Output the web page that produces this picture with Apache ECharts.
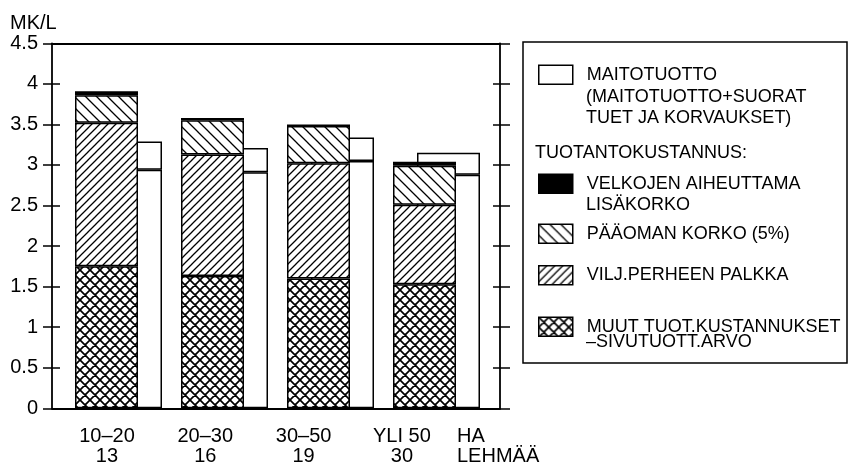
<!DOCTYPE html>
<html>
<head>
<meta charset="utf-8">
<script src="https://cdn.jsdelivr.net/npm/echarts@6/dist/echarts.min.js"></script>
<style>
html,body{margin:0;padding:0;background:#fff;}
#chart{width:849px;height:470px;}
</style>
</head>
<body>
<div id="chart"></div>
<script>
// ---- data (MK/L) ----
const categories = ['10–20', '20–30', '30–50', 'YLI 50'];
const cows = ['13', '16', '19', '30'];
const muutKustannukset = [1.75, 1.63, 1.60, 1.53];
const viljPerheenPalkka = [1.77, 1.50, 1.42, 0.98];
const paaomanKorko = [0.34, 0.42, 0.46, 0.48];
const velkojenLisakorko = [0.05, 0.03, 0.02, 0.05];
const maitotuotto = [2.94, 2.91, 3.05, 2.88];
const maitotuottoJaTuet = [3.29, 3.21, 3.34, 3.15];
const yTicks = [0, 0.5, 1, 1.5, 2, 2.5, 3, 3.5, 4, 4.5];

const FONT = "'Liberation Sans', Arial, sans-serif";
const tuetOsuus = maitotuottoJaTuet.map((v, i) => +(v - maitotuotto[i]).toFixed(3));
const empty = categories.map(() => null);

function makePattern(kind) {
  const s = kind === 'cross' ? 10 : (kind === 'fwd' ? 8 : 11);
  const c = document.createElement('canvas');
  c.width = s; c.height = s;
  const g = c.getContext('2d');
  g.fillStyle = '#fff'; g.fillRect(0, 0, s, s);
  g.strokeStyle = '#000';
  g.lineWidth = kind === 'cross' ? 1.7 : 1.3;
  g.beginPath();
  if (kind === 'fwd' || kind === 'cross') {
    g.moveTo(-1, s + 1); g.lineTo(s + 1, -1);
    g.moveTo(-2, 2); g.lineTo(2, -2);
    g.moveTo(s - 2, s + 2); g.lineTo(s + 2, s - 2);
  }
  if (kind === 'back' || kind === 'cross') {
    g.moveTo(-1, -1); g.lineTo(s + 1, s + 1);
    g.moveTo(s - 2, -2); g.lineTo(s + 2, 2);
    g.moveTo(-2, s - 2); g.lineTo(2, s + 2);
  }
  g.stroke();
  return { image: c, repeat: 'repeat' };
}
const patCross = makePattern('cross');
const patFwd = makePattern('fwd');
const patBack = makePattern('back');

const border = { borderColor: '#000', borderWidth: 1.5 };
const TOP = 43.3, BOTTOM = 470 - 408.3;
const frameLine = { show: true, onZero: false, lineStyle: { color: '#000', width: 1.8 } };

const chart = echarts.init(document.getElementById('chart'), null, { renderer: 'canvas' });

function legendAt(name, top) {
  return {
    data: [name], left: 538, top: top, orient: 'vertical', padding: 0,
    itemWidth: 34, itemHeight: 19, selectedMode: false, icon: 'rect',
    itemStyle: { borderColor: '#000', borderWidth: 1.5 },
    textStyle: { fontFamily: FONT, fontSize: 18, color: '#000', padding: [0, 0, 0, 9] }
  };
}
function gtext(x, y, text, size) {
  return { type: 'text', x: x, y: y, silent: true,
    style: { text: text, fill: '#000', font: (size || 18) + 'px ' + FONT, align: 'left', verticalAlign: 'middle' } };
}
function frameX(pos) {
  return { type: 'category', gridIndex: 0, data: categories, position: pos,
    axisLine: frameLine, axisTick: { show: false }, axisLabel: { show: false }, splitLine: { show: false } };
}

const option = {
  animation: false,
  backgroundColor: '#fff',
  grid: [
    { left: 52, right: 849 - 500, top: TOP, bottom: BOTTOM },
    { left: 65.5, width: 424, top: TOP, bottom: BOTTOM },
    { left: 57.8, width: 393.3, top: TOP, bottom: BOTTOM }
  ],
  xAxis: [
    { type: 'category', gridIndex: 1, data: categories, show: false },
    { type: 'category', gridIndex: 1, data: categories, show: false },
    frameX('bottom'),
    { type: 'category', gridIndex: 2, data: categories, position: 'bottom',
      axisLine: { show: false }, axisTick: { show: false },
      axisLabel: { margin: 18, fontFamily: FONT, fontSize: 20, color: '#000', lineHeight: 20,
        formatter: (v, i) => v + '\n' + cows[i] } },
    frameX('top')
  ],
  yAxis: [
    { type: 'value', gridIndex: 0, position: 'left', min: yTicks[0], max: yTicks[yTicks.length - 1], interval: 0.5,
      splitLine: { show: false }, axisLine: frameLine,
      axisTick: { show: true, length: 9, lineStyle: { color: '#000', width: 1.5 } },
      axisLabel: { margin: 14, fontFamily: FONT, fontSize: 20, color: '#000', formatter: v => String(v) } },
    { type: 'value', gridIndex: 0, position: 'left', min: 0, max: 4.5, interval: 0.5,
      splitLine: { show: false }, axisLine: { show: false }, axisLabel: { show: false },
      axisTick: { show: true, inside: true, length: 8, lineStyle: { color: '#000', width: 1.5 } } },
    { type: 'value', gridIndex: 0, position: 'right', min: 0, max: 4.5, interval: 0.5,
      splitLine: { show: false }, axisLine: frameLine, axisLabel: { show: false },
      axisTick: { show: true, length: 10, lineStyle: { color: '#000', width: 1.5 } } },
    { type: 'value', gridIndex: 0, position: 'right', min: 0, max: 4.5, interval: 0.5,
      splitLine: { show: false }, axisLine: { show: false }, axisLabel: { show: false },
      axisTick: { show: true, inside: true, length: 7, lineStyle: { color: '#000', width: 1.5 } } },
    { type: 'value', gridIndex: 1, min: 0, max: 4.5, show: false },
    { type: 'value', gridIndex: 2, min: 0, max: 4.5, show: false }
  ],
  legend: [
    legendAt('MAITOTUOTTO', 64.5),
    legendAt('VELKOJEN AIHEUTTAMA', 173.5),
    legendAt('PÄÄOMAN KORKO (5%)', 223.5),
    legendAt('VILJ.PERHEEN PALKKA', 265),
    legendAt('MUUT TUOT.KUSTANNUKSET', 316.5)
  ],
  graphic: [
    { type: 'rect', shape: { x: 523, y: 42, width: 324, height: 321 }, silent: true, z: -1,
      style: { fill: 'transparent', stroke: '#000', lineWidth: 1.5 } },
    gtext(586, 97, '(MAITOTUOTTO+SUORAT'),
    gtext(586, 118.5, 'TUET JA KORVAUKSET)'),
    gtext(535, 153, 'TUOTANTOKUSTANNUS:'),
    gtext(586, 205, 'LISÄKORKO'),
    gtext(586, 342.5, '–SIVUTUOTT.ARVO'),
    gtext(10, 23, 'MK/L', 20),
    gtext(457, 436, 'HA', 20),
    gtext(457, 456, 'LEHMÄÄ', 20)
  ],
  series: [
    { name: 'MUUT TUOT.KUSTANNUKSET', type: 'bar', xAxisIndex: 0, yAxisIndex: 4, stack: 'cost',
      barWidth: 63, barGap: '0%', z: 3, data: muutKustannukset, itemStyle: Object.assign({ color: patCross }, border) },
    { name: 'VILJ.PERHEEN PALKKA', type: 'bar', xAxisIndex: 0, yAxisIndex: 4, stack: 'cost',
      barWidth: 63, barGap: '0%', z: 3, data: viljPerheenPalkka, itemStyle: Object.assign({ color: patFwd }, border) },
    { name: 'PÄÄOMAN KORKO (5%)', type: 'bar', xAxisIndex: 0, yAxisIndex: 4, stack: 'cost',
      barWidth: 63, barGap: '0%', z: 3, data: paaomanKorko, itemStyle: Object.assign({ color: patBack }, border) },
    { name: 'VELKOJEN AIHEUTTAMA', type: 'bar', xAxisIndex: 0, yAxisIndex: 4, stack: 'cost',
      barWidth: 63, barGap: '0%', z: 3, data: velkojenLisakorko, itemStyle: Object.assign({ color: '#000' }, border) },
    { name: '_vali1', type: 'bar', xAxisIndex: 0, yAxisIndex: 4, stack: 'vali1',
      barWidth: 24, barGap: '0%', data: empty, silent: true },
    { name: '_vali2', type: 'bar', xAxisIndex: 1, yAxisIndex: 4, stack: 'vali2',
      barWidth: 24, barGap: '0%', data: empty, silent: true },
    { name: 'MAITOTUOTTO', type: 'bar', xAxisIndex: 1, yAxisIndex: 4, stack: 'milk',
      barWidth: 63, barGap: '0%', z: 1, data: maitotuotto, itemStyle: Object.assign({ color: '#fff' }, border) },
    { name: 'MAITOTUOTTO+SUORAT TUET JA KORVAUKSET', type: 'bar', xAxisIndex: 1, yAxisIndex: 4, stack: 'milk',
      barWidth: 63, barGap: '0%', z: 1, data: tuetOsuus, itemStyle: Object.assign({ color: '#fff' }, border) }
  ]
};
chart.setOption(option);
</script>
</body>
</html>
